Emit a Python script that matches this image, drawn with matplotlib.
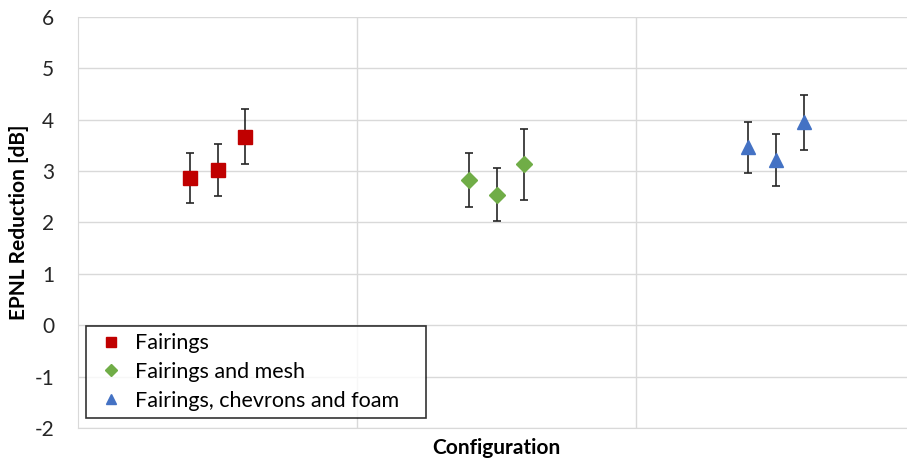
import numpy as np
import matplotlib
matplotlib.use('Agg')
import matplotlib.pyplot as plt
from matplotlib.ticker import FuncFormatter

plt.rcParams['font.family'] = ['Lato', 'DejaVu Sans']

# x positions of the three configurations, three repeats each
x_fair = [0.4, 0.5, 0.6]
x_mesh = [1.4, 1.5, 1.6]
x_chev = [2.4, 2.5, 2.6]

y_fair = [2.87, 3.02, 3.67]
y_mesh = [2.83, 2.54, 3.13]
y_chev = [3.46, 3.22, 3.95]

err_fair = [0.49, 0.50, 0.54]
err_mesh = [0.52, 0.52, 0.69]
err_chev = [0.50, 0.50, 0.53]

labels = ['Fairings', 'Fairings and mesh', 'Fairings, chevrons and foam']
COLORS = ['#C00000', '#70AD47', '#4472C4']
MARKERS = ['s', 'D', '^']
SIZES = [10, 8, 10]

fig = plt.figure(figsize=(9.07, 4.62), dpi=100)
ax = fig.add_axes([0.086, 0.0736, 0.923, 0.8896])

series = [(x_fair, y_fair, err_fair), (x_mesh, y_mesh, err_mesh), (x_chev, y_chev, err_chev)]
handles = []
for i, (xs, ys, es) in enumerate(series):
    ax.errorbar(xs, ys, yerr=es, fmt='none', ecolor='#262626', elinewidth=1.2,
                capsize=3, capthick=1.2, zorder=3)
    h, = ax.plot(xs, ys, linestyle='none', marker=MARKERS[i], markersize=SIZES[i],
                 color=COLORS[i], markeredgecolor=COLORS[i], label=labels[i], zorder=4)
    handles.append(h)

ax.set_xlim(0, 3)
ax.set_ylim(-2, 6)
ax.set_yticks(np.arange(-2, 7, 1))
ax.yaxis.set_major_formatter(FuncFormatter(lambda v, p: '%d' % v))
ax.set_xticks([1, 2])
ax.set_xticklabels([])
ax.tick_params(axis='both', length=0, labelsize=15, colors='#404040')
ax.tick_params(axis='y', pad=17, labelcolor='#262626')
ax.grid(True, color='#D9D9D9', linewidth=1)
ax.set_axisbelow(True)
for s in ax.spines.values():
    s.set_visible(False)
ax.spines['bottom'].set_visible(True)
ax.spines['bottom'].set_color('#D9D9D9')
ax.spines['left'].set_visible(True)
ax.spines['left'].set_color('#D9D9D9')

ax.set_xlabel('Configuration', fontsize=15, fontweight='bold', labelpad=4)
ax.set_ylabel('EPNL Reduction [dB]', fontsize=15, fontweight='bold', labelpad=4)

leg = ax.legend(handles=handles, loc='lower left', bbox_to_anchor=(0.0097, 0.024, 0.406, 0),
                mode='expand', fontsize=15.5, frameon=True, fancybox=False, borderpad=0.35,
                handlelength=1.6, handletextpad=0.3, labelspacing=0.4,
                borderaxespad=0, markerscale=0.75)
leg.get_frame().set_edgecolor('black')
leg.get_frame().set_linewidth(1.2)

fig.savefig('out.png', dpi=100)
